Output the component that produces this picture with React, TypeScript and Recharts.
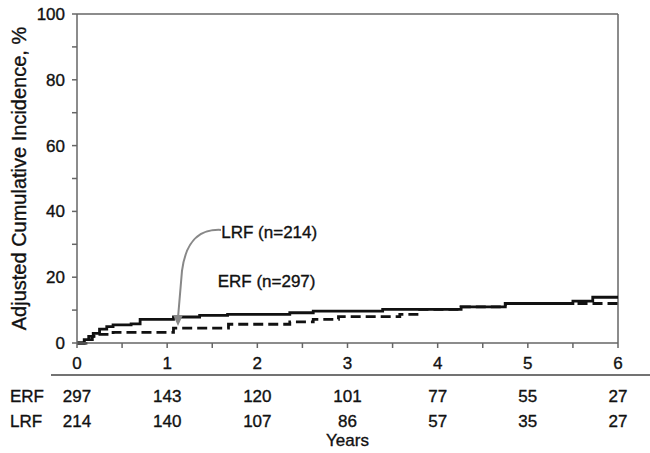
import React from 'react';
import { LineChart, Line, XAxis, YAxis, ReferenceLine, ReferenceDot } from 'recharts';

const erfTimes = [0, 0.08, 0.13, 0.18, 0.25, 0.33, 0.4, 0.6, 0.7, 1.07, 1.36, 1.67, 2.36, 2.62, 3.39, 4.26, 4.75, 5.5, 5.72, 6.0];
const erfValues = [0, 1.0, 2.0, 2.9, 4.2, 5.0, 5.5, 5.8, 7.2, 7.9, 8.4, 8.7, 9.2, 9.7, 10.2, 11.0, 12.0, 12.7, 13.9, 13.9];
const lrfTimes = [0, 0.1, 0.17, 0.22, 0.4, 1.07, 1.68, 2.36, 2.62, 2.9, 3.58, 3.8, 4.26, 4.75, 6.0];
const lrfValues = [0, 1.0, 2.0, 2.6, 3.2, 4.5, 5.7, 6.4, 7.2, 8.0, 8.7, 10.2, 11.0, 12.0, 12.0];

const xTicks = [0, 0.5, 1, 1.5, 2, 2.5, 3, 3.5, 4, 4.5, 5, 5.5, 6];
const yTicks = [0, 10, 20, 30, 40, 50, 60, 70, 80, 90, 100];
const riskYears = [0, 1, 2, 3, 4, 5, 6];
const erfAtRisk = [297, 143, 120, 101, 77, 55, 27];
const lrfAtRisk = [214, 140, 107, 86, 57, 35, 27];

const erfData = erfTimes.map((t, i) => ({ t, v: erfValues[i] }));
const lrfData = lrfTimes.map((t, i) => ({ t, v: lrfValues[i] }));

const FONT = '"Liberation Sans", Arial, sans-serif';
const TXT = '#111';
const AX = '#666';
const TS = { stroke: '#111', strokeWidth: 0.35 };

const XTick = (props: any) => {
  const { x, y, payload } = props;
  const val = payload.value;
  const idx = riskYears.indexOf(val);
  if (idx < 0) return <g />;
  return (
    <g fontFamily={FONT} fontSize={17} fill={TXT}>
      <text x={x} y={y + 19} textAnchor="middle" fill={TXT} {...TS}>{val}</text>
      <text x={x} y={y + 52} textAnchor="middle" fill={TXT} {...TS}>{erfAtRisk[idx]}</text>
      <text x={x} y={y + 77} textAnchor="middle" fill={TXT} {...TS}>{lrfAtRisk[idx]}</text>
      {val === 0 && (
        <g>
          <line x1={x - 26} x2={x + 580} y1={y + 25} y2={y + 25} stroke="#444" strokeWidth={1.5} />
          <text x={x - 67} y={y + 52} textAnchor="start" fill={TXT} {...TS}>ERF</text>
          <text x={x - 67} y={y + 77} textAnchor="start" fill={TXT} {...TS}>LRF</text>
        </g>
      )}
      {val === 3 && (
        <text x={x} y={y + 96} textAnchor="middle" fill={TXT} {...TS}>Years</text>
      )}
    </g>
  );
};

const YTick = (props: any) => {
  const { x, y, payload } = props;
  if (payload.value % 20 !== 0) return <g />;
  return (
    <text x={x} y={y} dy={6} textAnchor="end" fontFamily={FONT} fontSize={17} fill={TXT} {...TS}>
      {payload.value}
    </text>
  );
};

const ArrowShape = (props: any) => {
  const { cx, cy } = props;
  return (
    <g transform={`translate(${cx},${cy})`}>
      <path d="M 43 -96 C 22 -97 8 -86 4 -55 L 0 -8" fill="none" stroke="#888" strokeWidth={2} />
      <polygon points="0,0 -4.5,-10 4.5,-10" fill="#888" />
    </g>
  );
};

const LabelShape = (text: string) => (props: any) => {
  const { cx, cy } = props;
  return (
    <text x={cx} y={cy} textAnchor="start" fontFamily={FONT} fontSize={17} fill={TXT} {...TS}>
      {text}
    </text>
  );
};

export default function App() {
  return (
    <div style={{ position: 'absolute', left: 0, top: 0, width: 650, height: 453, background: '#fff' }}>
      <LineChart width={650} height={453} margin={{ top: 14, right: 32, left: 0, bottom: 0 }}>
        <XAxis
          dataKey="t"
          type="number"
          domain={[0, 6]}
          ticks={xTicks}
          interval={0}
          height={110}
          tickSize={5}
          tickMargin={2}
          stroke={AX}
          strokeWidth={1.5}
          tick={<XTick />}
          allowDuplicatedCategory={false}
        />
        <YAxis
          type="number"
          domain={[0, 100]}
          ticks={yTicks}
          interval={0}
          width={77}
          tickSize={5}
          tickMargin={7}
          stroke={AX}
          strokeWidth={1.5}
          tick={<YTick />}
          label={{
            value: 'Adjusted Cumulative Incidence, %',
            angle: -90,
            position: 'insideLeft',
            offset: 0,
            dx: 19,
            style: { fontFamily: FONT, fontSize: 20, fill: TXT, textAnchor: 'middle', stroke: '#111', strokeWidth: 0.35 },
          }}
        />
        <ReferenceLine y={100} stroke={AX} strokeWidth={1.5} />
        <ReferenceLine x={6} stroke={AX} strokeWidth={1.5} />
        <Line data={lrfData} dataKey="v" type="stepAfter" stroke="#111" strokeWidth={2.8} strokeDasharray="10 5" dot={false} isAnimationActive={false} />
        <Line data={erfData} dataKey="v" type="stepAfter" stroke="#111" strokeWidth={2.8} dot={false} isAnimationActive={false} />
        <ReferenceDot x={1.12} y={5.2} r={0} shape={<ArrowShape />} />
        <ReferenceDot x={1.6} y={32} r={0} shape={LabelShape('LRF (n=214)')} />
        <ReferenceDot x={1.56} y={17} r={0} shape={LabelShape('ERF (n=297)')} />
      </LineChart>
    </div>
  );
}
